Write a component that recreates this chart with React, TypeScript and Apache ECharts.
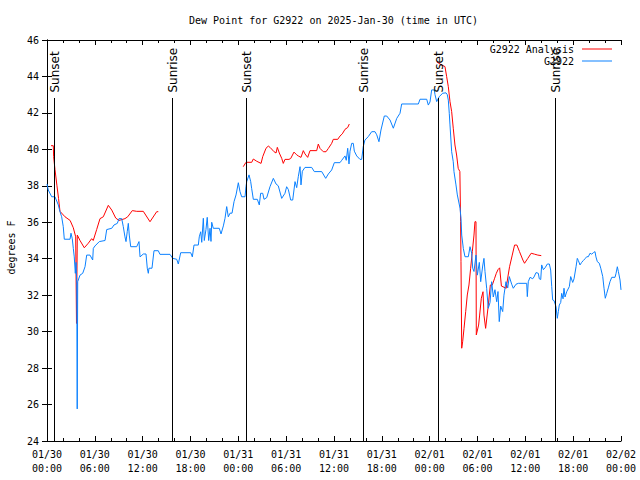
import React, { useEffect, useRef } from "react";
import * as echarts from "echarts";

// Hours since 2025-01-30 00:00 UTC
const blueHours = [
  0.0, 0.16, 0.59, 1.0, 1.42, 1.63, 1.84, 2.04, 2.17, 2.89, 3.01, 3.17, 3.3, 3.42, 3.55, 3.64, 3.73, 3.79, 3.85,
  4.14, 4.48, 4.77, 4.98, 5.39, 5.73, 5.81, 6.02, 6.56, 7.28, 7.49, 8.12, 8.4, 8.82, 9.03, 9.37, 9.57, 9.78, 9.91,
  10.07, 10.2, 10.32, 10.5, 11.25, 11.54, 11.67, 12.08, 12.42, 12.58, 12.71, 12.79, 13.17, 13.42, 13.96, 14.17,
  15.43, 15.77, 16.27, 16.47, 16.77, 18.03, 18.23, 18.44, 18.98, 19.1, 19.28, 19.41, 19.61, 19.73, 19.94, 20.1,
  20.28, 20.45, 20.57, 20.66, 20.86, 21.61, 21.83, 22.12, 22.33, 22.54, 22.74, 22.96, 23.21, 23.46, 23.71, 24.0,
  24.21, 24.42, 24.84, 24.96, 25.05, 25.34, 25.55, 25.67, 25.88, 26.38, 26.63, 26.8, 27.06, 27.22, 27.56, 27.97,
  28.39, 28.73, 29.01, 29.44, 29.85, 30.06, 30.27, 30.57, 30.82, 31.11, 31.32, 31.52, 31.74, 31.86, 32.03, 32.36,
  33.2, 33.53, 34.46, 34.96, 35.29, 35.71, 36.04, 36.75, 36.97, 37.38, 37.54, 37.72, 37.88, 38.01, 38.22, 38.42,
  38.55, 38.85, 39.26, 39.47, 39.67, 39.88, 40.3, 40.73, 41.14, 41.36, 41.64, 41.89, 42.31, 42.61, 43.03, 43.44,
  43.87, 44.28, 44.49, 46.58, 46.79, 47.63, 47.83, 48.04, 48.25, 48.58, 48.67, 48.88, 49.21, 49.64, 50.05, 50.21,
  50.34, 50.46, 50.55, 50.76, 50.96, 51.05, 51.3, 51.47, 51.81, 51.93, 52.02, 52.22, 52.43, 52.85, 53.06, 53.27,
  53.4, 53.56, 53.81, 53.98, 54.23, 54.4, 54.65, 54.81, 54.94, 55.15, 55.35, 55.57, 55.78, 55.98, 56.19, 56.41,
  56.57, 56.73, 56.91, 57.16, 57.32, 57.57, 57.79, 57.99, 58.29, 58.49, 58.83, 59.12, 60.17, 60.25, 60.37, 60.59,
  60.92, 61.09, 61.34, 61.63, 61.75, 61.93, 62.05, 62.26, 62.47, 62.76, 63.01, 63.18, 63.31, 63.43, 63.6, 63.85,
  64.01, 64.14, 64.26, 64.44, 64.56, 64.73, 64.85, 64.98, 65.19, 65.52, 65.69, 65.94, 66.11, 66.36, 66.52, 66.65,
  66.86, 67.07, 67.27, 67.49, 67.7, 67.9, 68.11, 68.32, 68.53, 68.74, 68.86, 69.03, 69.28, 69.46, 69.71, 69.87,
  70.03, 70.21, 70.41, 70.62, 70.84, 71.25, 71.38, 71.54, 71.67, 71.88, 72.0,
];
const blueValues = [
  38.1, 37.77, 37.4, 37.4, 36.95, 36.58, 36.3, 35.76, 35.07, 35.07, 35.4, 35.1, 34.57, 34.1, 33.2, 33.8, 32.65, 25.76, 32.74,
  33.1, 33.2, 33.56, 34.2, 34.2, 33.93, 34.57, 34.7, 34.94, 35.0, 35.6, 35.67, 35.85, 35.94, 36.2, 36.2, 35.76, 35.2, 34.94,
  35.5, 35.94, 35.3, 34.66, 34.66, 34.94, 34.1, 34.26, 34.26, 33.48, 33.2, 33.48, 33.48, 34.44, 34.44, 34.24,
  34.24, 34.02, 33.97, 33.71, 34.33, 34.33, 34.1, 34.75, 34.75, 35.2, 35.48, 34.9, 36.22, 35.0, 35.6, 36.27,
  35.0, 35.67, 34.95, 36.0, 35.67, 35.67, 35.36, 35.8, 36.22, 36.86, 36.3, 36.5, 36.5, 37.13, 37.5, 38.17,
  37.68, 37.4, 37.4, 37.95, 38.23, 38.6, 38.23, 37.86, 37.26, 37.26, 36.95, 37.59, 37.59, 37.26, 37.35, 37.95,
  38.41, 38.1, 38.0, 37.31, 37.59, 37.95, 37.8, 37.22, 37.22, 38.23, 37.9, 38.5, 39.05, 38.05, 38.8, 39.01,
  39.01, 38.78, 38.78, 38.41, 38.65, 38.87, 39.27, 39.27, 39.4, 39.64, 39.4, 40.06, 39.2, 39.9, 40.33, 40.33,
  39.9, 39.64, 39.45, 39.45, 40.15, 40.51, 40.7, 40.97, 40.97, 40.8, 40.42, 41.06, 41.83, 41.83, 41.61, 41.16,
  41.7, 41.98, 42.49, 42.49, 42.75, 42.75, 42.43, 42.6, 43.26, 43.26, 43.0, 42.62, 42.9, 43.08, 43.1, 43.0,
  42.7, 41.98, 41.34, 39.87, 39.32, 38.78, 38.05, 37.5, 36.77, 36.22, 35.3, 34.57, 34.11, 34.11, 34.66, 34.3,
  33.48, 33.3, 34.2, 33.1, 33.8, 32.74, 33.6, 34.02, 33.3, 32.38, 31.28, 31.6, 32.74, 31.9, 32.3, 31.64,
  32.2, 30.55, 31.4, 31.1, 32.0, 32.74, 32.4, 33.02, 32.6, 32.38, 32.6, 32.65, 32.65, 31.92, 32.74, 32.98,
  32.9, 33.0, 33.24, 33.2, 32.9, 32.86, 33.66, 33.4, 33.5, 33.71, 33.71, 33.38, 32.47, 31.74, 31.7, 31.37,
  30.73, 31.1, 31.46, 31.6, 32.1, 31.8, 32.38, 31.9, 32.19, 32.47, 33.02, 32.7, 32.9, 33.56, 34.02, 33.9,
  33.66, 33.8, 33.9, 34.0, 34.11, 34.11, 34.3, 34.25, 34.33, 34.39, 34.1, 33.84, 33.75, 33.48, 33.02, 32.38,
  31.83, 32.1, 32.4, 32.74, 32.98, 32.98, 33.2, 33.56, 33.3, 32.83, 32.29,
];

// null marks a gap between analysis runs
const redHours = [
  0.5, 0.79, 0.83, 1.0, 1.25, 1.45, 1.63, 2.26, 2.9, 3.3, 3.6, 3.7, 3.8, 4.14, 4.68, 5.18, 5.6, 5.8, 6.23, 6.65,
  7.06, 7.69, 8.12, 8.62, 9.03, 9.78, 10.12, 10.7, 11.25, 12.08, 12.92, 13.76, 13.96,
  19.0,
  24.62, 24.96, 25.68, 25.88, 26.3, 26.85, 27.06, 27.47, 27.76, 28.0, 28.48, 28.73, 28.89, 29.14, 29.44, 29.64,
  29.85, 30.35, 30.57, 30.98, 31.32, 31.52, 31.86, 32.15, 32.36, 32.7, 32.99, 33.83, 34.03, 34.25, 34.66, 35.0,
  35.29, 35.71, 35.91, 36.47, 36.75, 37.04, 37.38, 37.72, 37.92,
  43.0,
  48.88, 49.5, 49.92, 50.13, 50.34, 50.55, 50.76, 50.96, 51.17, 51.38, 51.58, 51.79, 51.88, 51.93, 52.02, 52.14,
  52.31, 52.52, 52.72, 52.93, 53.14, 53.35, 53.56, 53.68, 53.81, 53.85, 54.14, 54.27, 54.48, 54.69, 54.81, 55.02,
  55.31, 55.61, 55.86, 56.15, 56.36, 56.57, 56.78, 57.0, 57.6, 57.81, 58.02, 58.36, 58.65, 58.94, 59.27, 59.69,
  59.9, 60.31, 60.73, 61.15, 61.56, 62.0,
];
const redValues: (number | null)[] = [
  40.2, 40.2, 39.6, 38.9, 38.0, 37.3, 36.6, 36.3, 36.1, 35.7, 35.2, 30.45, 35.3, 35.0, 34.6, 34.85, 35.1, 35.0, 35.6, 36.2,
  36.3, 36.93, 36.67, 36.23, 36.1, 36.2, 36.3, 36.64, 36.6, 36.6, 36.03, 36.58, 36.58,
  null,
  39.05, 39.29, 39.29, 39.47, 39.35, 39.23, 39.6, 40.06, 40.18, 40.1, 39.87, 39.8, 40.11, 39.8, 39.51, 39.23,
  39.45, 39.45, 39.5, 39.85, 39.7, 39.64, 39.56, 39.93, 39.75, 39.56, 39.93, 39.93, 40.29, 40.05, 39.87, 39.87,
  40.05, 40.33, 40.55, 40.55, 40.73, 40.85, 41.1, 41.2, 41.39,
  null,
  44.8, 44.63, 44.54, 43.99, 43.44, 42.62, 42.07, 41.16, 40.24, 39.69, 38.96, 38.78, 36.03, 33.84, 29.09, 29.45,
  30.18, 31.1, 32.01, 32.56, 33.48, 34.39, 35.3, 36.03, 36.03, 29.82, 30.36, 30.91, 31.83, 32.19, 30.91, 30.18,
  31.28, 32.56, 32.56, 32.93, 33.2, 33.4, 33.5, 32.5, 32.38, 33.0, 33.56, 34.2, 34.75, 34.75, 34.39, 33.93,
  33.75, 34.02, 34.3, 34.25, 34.2, 34.17,
];

const sunHours = [0.92, 15.74, 25.0, 39.68, 49.08, 63.76];
const sunLabels = ["Sunset", "Sunrise", "Sunset", "Sunrise", "Sunset", "Sunrise"];

const yTicks = { min: 24, max: 46, step: 2 };
const xTicks = { min: 0, max: 72, step: 6 };

const MONO = "'DejaVu Sans Mono', monospace";
const SANS = "'DejaVu Sans', sans-serif";

function fmtHour(v: number): string {
  const d = Math.floor(v / 24 + 1e-9);
  const hh = Math.round(v - d * 24);
  let day = 30 + d;
  let mon = 1;
  if (day > 31) {
    day -= 31;
    mon = 2;
  }
  const p = (n: number) => (n < 10 ? "0" + n : "" + n);
  return `${p(mon)}/${p(day)}\n${p(hh)}:00`;
}

const crisp = (v: number) => Math.round(v - 0.5) + 0.5;

export default function App() {
  const ref = useRef<HTMLDivElement>(null);
  useEffect(() => {
    document.body.style.margin = "0";
    if (!ref.current) return;
    const chart = echarts.init(ref.current, null, { renderer: "svg" });

    const axisCommon = {
      axisLine: { show: true, lineStyle: { color: "#000", width: 1 } },
      axisTick: { show: true, inside: true, length: 5, lineStyle: { color: "#000", width: 1 } },
      splitLine: { show: false },
    };
    const minor = { show: true, splitNumber: 3, length: 3, lineStyle: { color: "#000", width: 1 } };

    const legendCommon = {
      right: 28,
      padding: 0,
      align: "right",
      icon: "rect",
      itemWidth: 30,
      itemHeight: 1,
      selectedMode: false,
      textStyle: { fontFamily: MONO, fontSize: 10, color: "#000", lineHeight: 12, padding: [0, 3, 0, 0] },
    };

    const option: any = {
      animation: false,
      backgroundColor: "#fff",
      textStyle: { fontFamily: MONO },
      title: {
        text: "Dew Point for G2922 on 2025-Jan-30 (time in UTC)",
        left: 189,
        top: 14,
        padding: 0,
        textStyle: { fontFamily: MONO, fontSize: 10, fontWeight: "normal", color: "#000", lineHeight: 12 },
      },
      legend: [
        { ...legendCommon, data: ["G2922 Analysis"], top: 43 },
        { ...legendCommon, data: ["G2922"], top: 55 },
      ],
      grid: { left: 47, right: 19, top: 40, bottom: 39, containLabel: false, outerBoundsMode: "none" },
      xAxis: [
        {
          type: "value",
          position: "bottom",
          min: xTicks.min,
          max: xTicks.max,
          interval: xTicks.step,
          ...axisCommon,
          minorTick: minor,
          axisLabel: {
            formatter: (v: number) => fmtHour(v),
            fontFamily: MONO,
            fontSize: 10,
            color: "#000",
            lineHeight: 14,
            margin: 6,
            hideOverlap: false,
          },
        },
        {
          type: "value",
          position: "top",
          min: xTicks.min,
          max: xTicks.max,
          interval: xTicks.step,
          ...axisCommon,
          minorTick: minor,
          axisLabel: { show: false },
        },
      ],
      yAxis: [
        {
          type: "value",
          position: "left",
          min: yTicks.min,
          max: yTicks.max,
          interval: yTicks.step,
          ...axisCommon,
          axisLabel: { fontFamily: MONO, fontSize: 10, color: "#000", margin: 8 },
          name: "degrees F",
          nameLocation: "middle",
          nameGap: 30,
          nameTextStyle: { fontFamily: MONO, fontSize: 10, color: "#000", padding: [0, 14, 0, 0] },
        },
        {
          type: "value",
          position: "right",
          min: yTicks.min,
          max: yTicks.max,
          interval: yTicks.step,
          ...axisCommon,
          axisLabel: { show: false },
        },
      ],
      series: [
        {
          name: "G2922 Analysis",
          type: "line",
          xAxisIndex: 0,
          yAxisIndex: 0,
          data: redHours.map((h, i) => [h, redValues[i] === null ? "-" : redValues[i]]),
          showSymbol: false,
          connectNulls: false,
          color: "#ff0000",
          lineStyle: { color: "#ff0000", width: 1 },
          z: 2,
        },
        {
          name: "G2922",
          type: "line",
          xAxisIndex: 0,
          yAxisIndex: 0,
          data: blueHours.map((h, i) => [h, blueValues[i]]),
          showSymbol: false,
          color: "#0a80ff",
          lineStyle: { color: "#0a80ff", width: 1 },
          z: 3,
        },
        {
          name: "sun",
          type: "custom",
          xAxisIndex: 0,
          yAxisIndex: 0,
          data: sunHours.map((h) => [h, yTicks.min]),
          z: 4,
          renderItem: (params: any, api: any) => {
            const h = api.value(0);
            const top = api.coord([h, 42.82]);
            const bot = api.coord([h, yTicks.min]);
            const txt = api.coord([h, 43.12]);
            const x = crisp(top[0]);
            return {
              type: "group",
              children: [
                {
                  type: "line",
                  shape: { x1: x, y1: Math.round(top[1]), x2: x, y2: Math.round(bot[1]) },
                  style: { stroke: "#000", lineWidth: 1 },
                },
                {
                  type: "text",
                  x: txt[0] + 1,
                  y: txt[1],
                  rotation: Math.PI / 2,
                  style: {
                    text: sunLabels[params.dataIndex],
                    fontFamily: SANS,
                    fontSize: 12,
                    fill: "#000",
                    align: "left",
                    verticalAlign: "middle",
                    textAlign: "left",
                    textVerticalAlign: "middle",
                  },
                },
              ],
            };
          },
        },
      ],
    };
    chart.setOption(option);
    return () => chart.dispose();
  }, []);
  return <div ref={ref} style={{ width: 640, height: 480 }} />;
}
